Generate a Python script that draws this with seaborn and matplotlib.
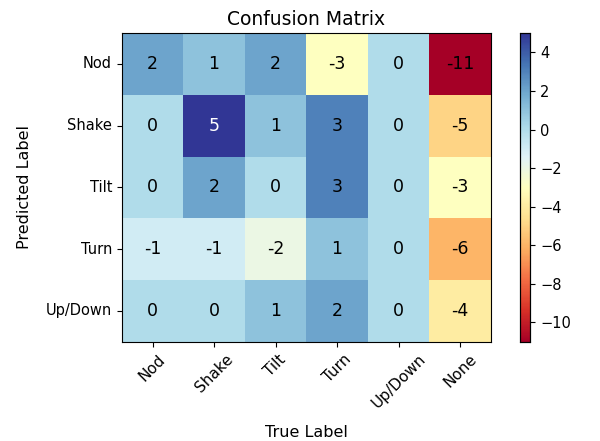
import numpy as np
import pandas as pd
import matplotlib
matplotlib.use("Agg")
import matplotlib.pyplot as plt
import seaborn as sns

true_labels = ["Nod", "Shake", "Tilt", "Turn", "Up/Down", "None"]
pred_labels = ["Nod", "Shake", "Tilt", "Turn", "Up/Down"]
row_nod = [2, 1, 2, -3, 0, -11]
row_shake = [0, 5, 1, 3, 0, -5]
row_tilt = [0, 2, 0, 3, 0, -3]
row_turn = [-1, -1, -2, 1, 0, -6]
row_updown = [0, 0, 1, 2, 0, -4]

df = pd.DataFrame([row_nod, row_shake, row_tilt, row_turn, row_updown],
                  index=pred_labels, columns=true_labels)

fig = plt.figure(figsize=(6, 4.41), dpi=100)
ax = fig.add_axes([0.203, 0.225, 0.615, 0.70])
cax = fig.add_axes([0.866, 0.225, 0.018, 0.70])
sns.heatmap(df, ax=ax, cbar_ax=cax, cmap="RdYlBu", vmin=-11, vmax=5,
            annot=True, fmt="d", annot_kws={"size": 12.5, "color": "black"})
for t in ax.texts:
    if t.get_text() == "5":
        t.set_color("white")
for s in ax.spines.values():
    s.set_visible(True)
    s.set_linewidth(0.8)
ax.set_title("Confusion Matrix", fontsize=13.5, pad=6)
ax.set_xlabel("True Label", fontsize=11.5, labelpad=10)
ax.set_ylabel("Predicted Label", fontsize=11.5, labelpad=10)
ax.set_xticklabels(true_labels, rotation=45, fontsize=11)
ax.set_yticklabels(pred_labels, rotation=0, fontsize=10.5)
ax.tick_params(length=3.5)
cax.set_yticks([-10, -8, -6, -4, -2, 0, 2, 4])
cax.tick_params(labelsize=10.5, length=3.5)
for s in cax.spines.values():
    s.set_visible(True)
    s.set_linewidth(0.8)
fig.savefig("out.png", dpi=100)
